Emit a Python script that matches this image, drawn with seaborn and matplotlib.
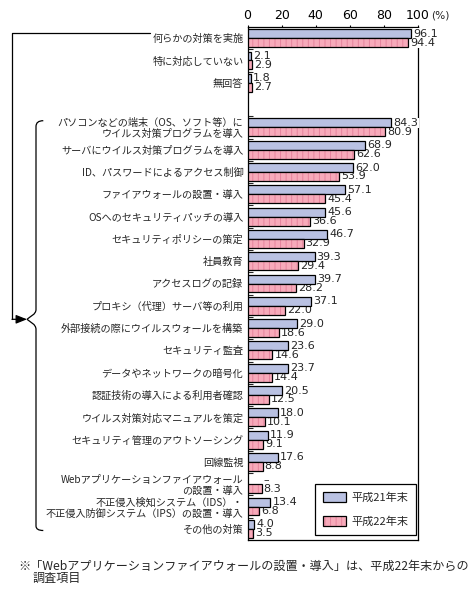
import matplotlib
matplotlib.use("Agg")
import matplotlib.pyplot as plt
from matplotlib.path import Path
from matplotlib.patches import PathPatch
from matplotlib.lines import Line2D
from matplotlib.colors import to_rgba
import seaborn as sns
import pandas as pd
import numpy as np

# ---------------- data ----------------
items_top = ["何らかの対策を実施", "特に対応していない", "無回答"]
items_detail = [
    "パソコンなどの端末（OS、ソフト等）に\nウイルス対策プログラムを導入",
    "サーバにウイルス対策プログラムを導入",
    "ID、パスワードによるアクセス制御",
    "ファイアウォールの設置・導入",
    "OSへのセキュリティパッチの導入",
    "セキュリティポリシーの策定",
    "社員教育",
    "アクセスログの記録",
    "プロキシ（代理）サーバ等の利用",
    "外部接続の際にウイルスウォールを構築",
    "セキュリティ監査",
    "データやネットワークの暗号化",
    "認証技術の導入による利用者確認",
    "ウイルス対策対応マニュアルを策定",
    "セキュリティ管理のアウトソーシング",
    "回線監視",
    "Webアプリケーションファイアウォール\nの設置・導入",
    "不正侵入検知システム（IDS）・\n不正侵入防御システム（IPS）の設置・導入",
    "その他の対策",
]
years = ["平成21年末", "平成22年末"]
values_h21 = [96.1, 2.1, 1.8,
              84.3, 68.9, 62.0, 57.1, 45.6, 46.7, 39.3, 39.7, 37.1, 29.0,
              23.6, 23.7, 20.5, 18.0, 11.9, 17.6, None, 13.4, 4.0]
values_h22 = [94.4, 2.9, 2.7,
              80.9, 62.6, 53.9, 45.4, 36.6, 32.9, 29.4, 28.2, 22.0, 18.6,
              14.6, 14.4, 12.5, 10.1, 9.1, 8.8, 8.3, 6.8, 3.5]
x_ticks = [0, 20, 40, 60, 80, 100]
footnote1 = "※「Webアプリケーションファイアウォールの設置・導入」は、平成22年末からの"
footnote2 = "調査項目"

items = items_top + items_detail
gap_key = " "
order = items_top + [gap_key] + items_detail

rows = []
for it, a, b in zip(items, values_h21, values_h22):
    if a is not None:
        rows.append((it, years[0], a))
    if b is not None:
        rows.append((it, years[1], b))
df = pd.DataFrame(rows, columns=["item", "year", "value"])

# ---------------- style ----------------
sns.set_theme(style="white")
plt.rcParams["font.family"] = ["Noto Sans CJK JP", "DejaVu Sans"]
plt.rcParams["hatch.linewidth"] = 0.7

BLUE = "#b9c1e2"
PINK = "#f7aaba"
PINK_HATCH = "#e5849d"

W, H = 476, 595
fig = plt.figure(figsize=(W / 100, H / 100), dpi=100)
ax_l, ax_r, ax_t, ax_b = 247.5, 418, 27, 540
ax = fig.add_axes([ax_l / W, 1 - ax_b / H, (ax_r - ax_l) / W, (ax_b - ax_t) / H])

sns.barplot(data=df, y="item", x="value", hue="year", order=order,
            hue_order=years, palette=[BLUE, PINK], orient="h", width=0.8,
            saturation=1, errorbar=None, edgecolor="black", linewidth=0.9,
            legend=False, ax=ax)

for p in ax.containers[1]:
    p.set_hatch("|||")
    p._hatch_color = to_rgba(PINK_HATCH)
for c in ax.containers:
    for p in c:
        p.set_zorder(4)

ax.set_xlim(0, 100)
ax.set_ylim(len(order) - 0.5, -0.5)
ax.set_xlabel("")
ax.set_ylabel("")

# x axis on top
ax.xaxis.tick_top()
ax.set_xticks(x_ticks, labels=[str(t) for t in x_ticks], fontsize=9,
              fontfamily="DejaVu Sans")
ax.tick_params(axis="x", direction="out", length=1.6, width=0.8, pad=2,
               top=True, bottom=False, colors="black")
ax.annotate("(%)", xy=(100, 1), xycoords=("data", "axes fraction"),
            xytext=(9.5, 8.2), textcoords="offset points", ha="left",
            va="center", fontsize=7.6, fontfamily="DejaVu Sans")

# y axis labels and separator marks
ax.set_yticks(range(len(order)), labels=order, fontsize=7.3, linespacing=1.12)
ax.tick_params(axis="y", which="major", length=0, pad=3)
sep = [i + 0.5 for i in range(len(order) - 1) if i != 2]
ax.set_yticks(sep, minor=True)
ax.tick_params(axis="y", which="minor", direction="in", length=3.6,
               width=0.8, left=True)

for s in ax.spines.values():
    s.set_visible(True)
    s.set_color("black")
    s.set_linewidth(0.9)

# value labels
for it, a, b in zip(items, values_h21, values_h22):
    y = order.index(it)
    for val, dy, other in ((a, -0.2, b), (b, 0.2, a)):
        txt = "–" if val is None else f"{val:.1f}"
        xv = other if val is None else val
        ax.annotate(txt, xy=(xv, y + dy), xytext=(1.5, 0),
                    textcoords="offset points", ha="left", va="center",
                    fontsize=8, fontfamily="DejaVu Sans", zorder=3,
                    bbox=dict(fc="white", ec="none", pad=0.2))

# legend
leg = ax.legend(handles=list(ax.containers), labels=years, loc="lower right",
                bbox_to_anchor=(0.988, 0.01), fontsize=8, frameon=True,
                fancybox=False, framealpha=1, edgecolor="black",
                handlelength=2.1, handleheight=1.0, handletextpad=0.45,
                labelspacing=1.2, borderpad=0.7, borderaxespad=0)
leg.get_frame().set_linewidth(0.9)
leg.set_zorder(6)

# bracket / brace decorations (figure pixel coordinates)
def P(x, y):
    return (x / W, 1 - y / H)

xs, ys = zip(*[P(150, 33), P(12, 33), P(12, 319.3)])
fig.add_artist(Line2D(xs, ys, color="black", lw=0.9, transform=fig.transFigure))
ax.annotate("", xy=P(27, 319.3), xytext=P(12, 319.3), xycoords="figure fraction",
            textcoords="figure fraction", annotation_clip=False,
            arrowprops=dict(arrowstyle="-|>,head_length=0.55,head_width=0.22",
                            color="black", lw=0.9, shrinkA=0, shrinkB=0))

verts = [P(43.3, 120.7), P(36, 120.7), P(36, 126.5),
         P(36, 309.5),
         P(36, 314.5), P(30, 316.5), P(27, 319.3),
         P(30, 322), P(36, 324), P(36, 329.5),
         P(36, 526),
         P(36, 530.5), P(43.3, 530.5)]
codes = [Path.MOVETO, Path.CURVE3, Path.CURVE3,
         Path.LINETO,
         Path.CURVE4, Path.CURVE4, Path.CURVE4,
         Path.CURVE4, Path.CURVE4, Path.CURVE4,
         Path.LINETO,
         Path.CURVE3, Path.CURVE3]
fig.add_artist(PathPatch(Path(verts, codes), fill=False, lw=0.9,
                         edgecolor="black", transform=fig.transFigure))

# footnote
fig.text(*P(18, 566), footnote1, fontsize=8.7, va="center", ha="left")
fig.text(*P(33, 578), footnote2, fontsize=8.7, va="center", ha="left")

fig.savefig("out.png", dpi=100, facecolor="white")
